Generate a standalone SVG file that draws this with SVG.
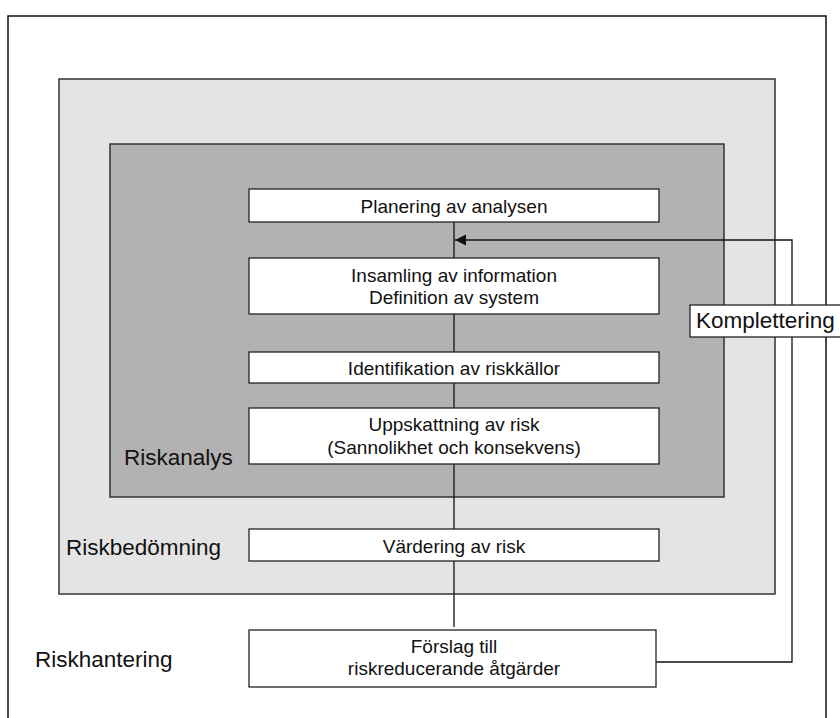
<svg xmlns="http://www.w3.org/2000/svg" width="840" height="718" viewBox="0 0 840 718">
<style>
.frame{fill:none;stroke:#111;stroke-width:1.5}
.region{stroke:#333;stroke-width:1.5}
.box{fill:#fff;stroke:#222;stroke-width:1.3}
.t{font-family:"Liberation Sans",Arial,sans-serif;font-size:19px;fill:#111;text-anchor:middle}
.lbl{font-family:"Liberation Sans",Arial,sans-serif;font-size:22.5px;fill:#111}
.conn{fill:none;stroke:#111;stroke-width:1.3}
</style>
<defs>
<marker id="arr" markerUnits="userSpaceOnUse" markerWidth="12" markerHeight="12" viewBox="0 0 12 12" refX="11" refY="6" orient="auto">
<path d="M0,0.5 L11,6 L0,11.5 Z" fill="#111"/>
</marker>
</defs>
<rect width="840" height="718" fill="#fff"/>
<g id="riskhantering">
<path class="frame" d="M8,720 V16 H826 V720"/>
<text class="lbl" x="35" y="667">Riskhantering</text>
</g>
<g id="riskbedomning">
<rect class="region" x="59" y="79" width="716" height="515" fill="#e4e4e4"/>
<text class="lbl" x="66" y="555">Riskbedömning</text>
</g>
<g id="riskanalys">
<rect class="region" x="110" y="144" width="614" height="353" fill="#b2b2b2"/>
<text class="lbl" x="124" y="465">Riskanalys</text>
</g>
<g id="connectors">
<path class="conn" d="M454,222 V627"/>
<path class="conn" d="M656,662 H792 V240 H455" marker-end="url(#arr)"/>
</g>
<g id="planering">
<rect class="box" x="249" y="189" width="410" height="33"/>
<text class="t" x="454" y="213">Planering av analysen</text>
</g>
<g id="insamling">
<rect class="box" x="249" y="258" width="410" height="56"/>
<text class="t" x="454" y="281.5">Insamling av information</text>
<text class="t" x="454" y="303.5">Definition av system</text>
</g>
<g id="identifikation">
<rect class="box" x="249" y="352" width="410" height="31"/>
<text class="t" x="454" y="374.5">Identifikation av riskkällor</text>
</g>
<g id="uppskattning">
<rect class="box" x="249" y="408" width="410" height="56"/>
<text class="t" x="454" y="431">Uppskattning av risk</text>
<text class="t" x="454" y="453.5">(Sannolikhet och konsekvens)</text>
</g>
<g id="vardering">
<rect class="box" x="249" y="529" width="410" height="32"/>
<text class="t" x="454" y="553">Värdering av risk</text>
</g>
<g id="forslag">
<rect class="box" x="249" y="630" width="407" height="57"/>
<text class="t" x="454" y="653">Förslag till</text>
<text class="t" x="454" y="675">riskreducerande åtgärder</text>
</g>
<g id="komplettering">
<rect class="box" x="690" y="305" width="155" height="32"/>
<text class="lbl" x="696" y="328">Komplettering</text>
</g>
</svg>
